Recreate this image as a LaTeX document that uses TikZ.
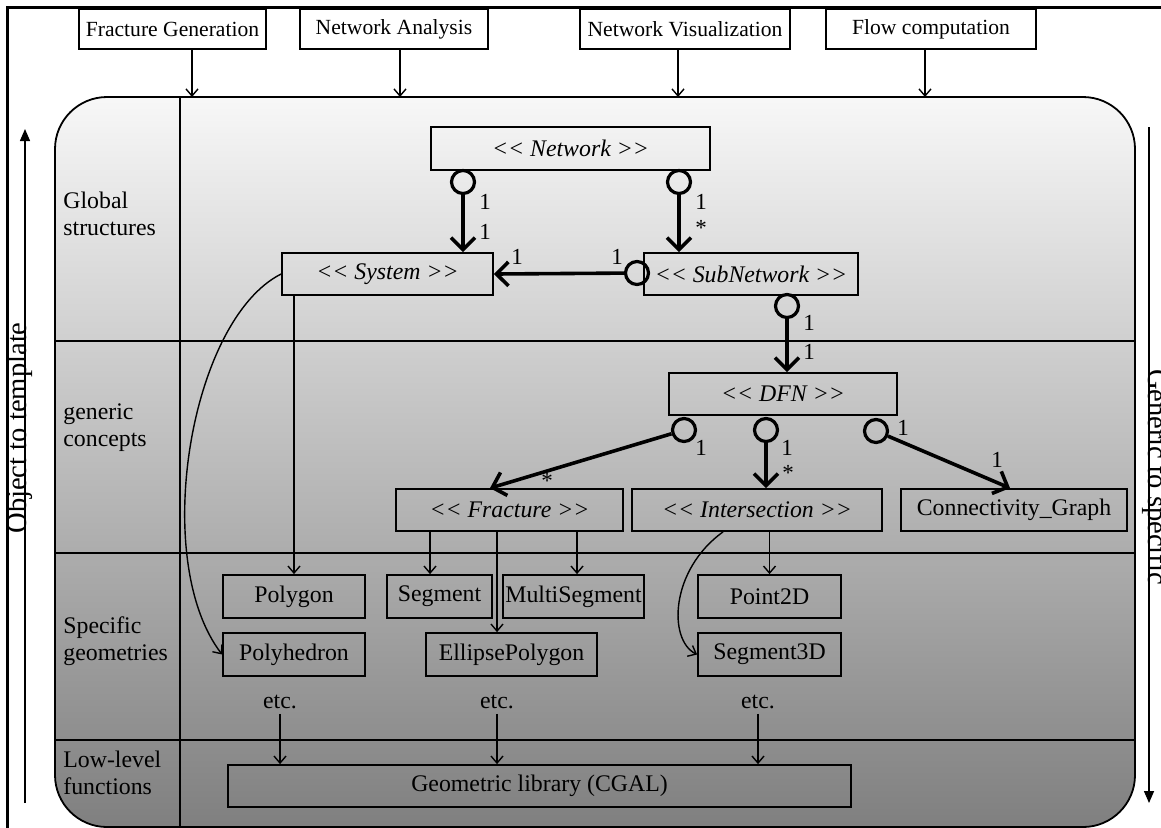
\documentclass[tikz,border=0pt]{standalone}
\usepackage{fontspec}
\setmainfont{Liberation Serif}
\usetikzlibrary{arrows.meta}
\newcommand{\stereo}[1]{\textit{<\kern0pt< #1 >\kern0pt>}}
\begin{document}
\begin{tikzpicture}[x=0.5pt, y=-0.5pt,
    box/.style = {draw, line width=0.9pt, inner sep=0pt, minimum height=21pt,
      font=\fontsize{11.9}{13}\selectfont},
    topbox/.style = {draw, line width=0.9pt, inner sep=0pt, minimum height=20pt,
      font=\fontsize{10.8}{13}\selectfont},
    role/.style = {circle, draw, line width=1.6pt, inner sep=0pt, minimum size=11.5pt},
    comp/.style = {line width=1.8pt, -{Straight Barb[length=6pt,width=12pt]}},
    arr/.style = {line width=0.7pt, -{Straight Barb[length=3.5pt,width=6pt]}},
    mult/.style = {inner sep=0pt, font=\fontsize{11.5}{13}\selectfont},
    layer/.style = {align=left, anchor=west, inner sep=0pt, font=\fontsize{11.9}{13.5}\selectfont},
    axis/.style = {inner sep=0pt, anchor=base, font=\fontsize{14.3}{16}\selectfont}]
  \clip (0,0) rectangle (1161,827);
  \draw[line width=1.5pt] (7,830) -- (7,7) -- (1165,7);

  % layers
  \draw[rounded corners=26pt, top color=black!3, bottom color=black!50, line width=0.9pt]
    (55,97) rectangle (1135,827);
  \draw[line width=0.7pt] (180,97) -- (180,827);
  \draw[line width=0.7pt] (55,341) -- (1135,341);
  \draw[line width=0.7pt] (55,553) -- (1135,553);
  \draw[line width=0.7pt] (55,740) -- (1135,740);
  \node[layer] (lglob) at (63,214) {Global\\structures};
  \node[layer] (lgen) at (63,428) {generic\\concepts};
  \node[layer] (lspec) at (63,641) {Specific\\geometries};
  \node[layer] (llow) at (63,773) {Low-level\\functions};

  % side axes
  \coordinate (ot1) at (25,803);
  \coordinate (ot2) at (25,129);
  \draw[line width=0.7pt, -{Triangle[length=6pt,width=5pt]}] (ot1) -- (ot2);
  \node[axis, rotate=90] (otxt) at (26,428) {Object to template};
  \coordinate (gs1) at (1149,127);
  \coordinate (gs2) at (1149,803);
  \draw[line width=0.7pt, -{Triangle[length=6pt,width=5pt]}] (gs1) -- (gs2);
  \node[axis, rotate=-90] (gtxt) at (1148,477) {Generic to specific};

  % applications
  \node[topbox, minimum width=93.5pt] (fg) at (172.5,29) {Fracture Generation};
  \node[topbox, minimum width=94pt] (na) at (394,29) {Network Analysis};
  \node[topbox, minimum width=105pt] (nv) at (685,29) {Network Visualization};
  \node[topbox, minimum width=105pt] (fc) at (931,29) {Flow computation};
  \coordinate (in1) at (192,97);
  \coordinate (in2) at (400,97);
  \coordinate (in3) at (678,97);
  \coordinate (in4) at (925,97);
  \draw[arr] (fg.south -| in1) -- (in1);
  \draw[arr] (na.south -| in2) -- (in2);
  \draw[arr] (nv.south -| in3) -- (in3);
  \draw[arr] (fc.south -| in4) -- (in4);

  % classes
  \node[box, minimum width=139.5pt, minimum height=21.5pt] (net) at (570.5,148.5) {\stereo{Network}};
  \node[box, minimum width=105.5pt] (sys) at (387.5,274) {\stereo{System}};
  \node[box, minimum width=107pt] (sub) at (751,274) {\stereo{SubNetwork}};
  \node[box, minimum width=114pt] (dfn) at (783,394) {\stereo{DFN}};
  \node[box, minimum width=113.5pt] (frac) at (509.5,510) {\stereo{Fracture}};
  \node[box, minimum width=125pt] (inter) at (757,510) {\stereo{Intersection}};
  \node[box, minimum width=113pt] (conn) at (1014,510) {Connectivity\_Graph};

  \node[box, minimum width=71pt, minimum height=21.5pt] (poly) at (294,596.5) {Polygon};
  \node[box, minimum width=71pt, minimum height=21.5pt] (polyh) at (294,654.5) {Polyhedron};
  \node[box, minimum width=52.5pt, minimum height=21.5pt] (seg) at (439.5,596.5) {Segment};
  \node[box, minimum width=70.5pt, minimum height=21.5pt] (mseg) at (573.5,596.5) {MultiSegment};
  \node[box, minimum width=85.5pt, minimum height=21.5pt] (ell) at (511.5,654.5) {EllipsePolygon};
  \node[box, minimum width=71.5pt, minimum height=21.5pt] (pt) at (769.5,596.5) {Point2D};
  \node[box, minimum width=71.5pt, minimum height=21.5pt] (seg3) at (769.5,654.5) {Segment3D};
  \node[box, minimum width=311.5pt] (cgal) at (539.5,786) {Geometric library (CGAL)};

  % aggregations
  \node[role] (c1) at (463,182) {};
  \node[role] (c2) at (679,182) {};
  \node[role] (c3) at (637,273) {};
  \node[role] (c4) at (787,306) {};
  \node[role] (c5) at (684,430) {};
  \node[role] (c6) at (766,430) {};
  \node[role] (c7) at (876,431) {};
  \path[comp] (c1) edge (c1 |- sys.north);
  \path[comp] (c2) edge (c2 |- sub.north);
  \path[comp] (c3) edge (sys.east);
  \path[comp] (c4) edge (c4 |- dfn.north);
  \path[comp] (c5) edge ([xshift=-9.75pt]frac.north);
  \path[comp] (c6) edge (c6 |- inter.north);
  \path[comp] (c7) edge ([xshift=-2pt]conn.north);

  \node[mult] (m1) at (485,202) {1};
  \node[mult] (m2) at (485,232) {1};
  \node[mult] (m3) at (701,202) {1};
  \node[mult] (m4) at (701,228) {*};
  \node[mult] (m5) at (517,257) {1};
  \node[mult] (m6) at (617,257) {1};
  \node[mult] (m7) at (809,323) {1};
  \node[mult] (m8) at (809,352) {1};
  \node[mult] (m9) at (701,448) {1};
  \node[mult] (m10) at (547,481) {*};
  \node[mult] (m11) at (787,448) {1};
  \node[mult] (m12) at (788,473) {*};
  \node[mult] (m13) at (903,428) {1};
  \node[mult] (m14) at (997,460) {1};

  % specialisations
  \draw[arr] (poly.north |- sys.south) -- (poly.north);
  \draw[arr] (sys.west) .. controls (190,320) and (150,560) .. (polyh.west);
  \draw[arr] ([xshift=-4.75pt]seg.north |- frac.south) -- ([xshift=-4.75pt]seg.north);
  \draw[arr] ([xshift=-7.25pt]ell.north |- frac.south) -- ([xshift=-7.25pt]ell.north);
  \draw[arr] ([xshift=1.75pt]mseg.north |- frac.south) -- ([xshift=1.75pt]mseg.north);
  \draw[arr] (pt.north |- inter.south) -- (pt.north);
  \draw[arr] ([xshift=-17pt]inter.south) .. controls (670,570) and (668,640) .. (seg3.west);

  % etc.
  \node[box, draw=none, minimum height=0pt] (e1) at (280,702) {etc.};
  \node[box, draw=none, minimum height=0pt] (e2) at (497,702) {etc.};
  \node[box, draw=none, minimum height=0pt] (e3) at (758,702) {etc.};
  \draw[arr] ([yshift=-2pt]e1.south) -- (e1.south |- cgal.north);
  \draw[arr] ([yshift=-2pt]e2.south) -- (e2.south |- cgal.north);
  \draw[arr] ([yshift=-2pt]e3.south) -- (e3.south |- cgal.north);
\end{tikzpicture}
\end{document}
